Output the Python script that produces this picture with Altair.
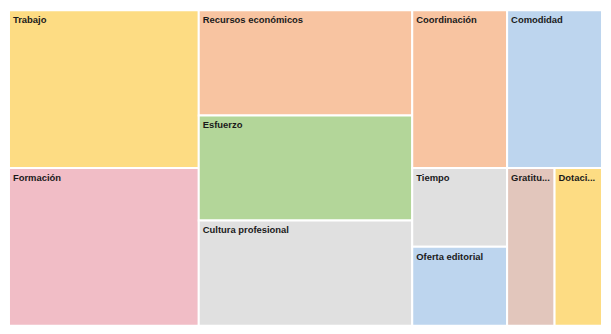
import altair as alt
import pandas as pd

# ---- data ----
names = ["Trabajo", "Formación", "Recursos económicos", "Esfuerzo",
         "Cultura profesional", "Coordinación", "Comodidad", "Tiempo",
         "Oferta editorial", "Gratitud", "Dotación"]
labels = ["Trabajo", "Formación", "Recursos económicos", "Esfuerzo",
          "Cultura profesional", "Coordinación", "Comodidad", "Tiempo",
          "Oferta editorial", "Gratitu...", "Dotaci..."]
values = [4, 4, 3, 3, 3, 2, 2, 1, 1, 1, 1]
colors = ["#FDDC83", "#F1BDC6", "#F8C4A1", "#B3D699", "#E0E0E0", "#F8C4A1",
          "#BDD5EE", "#E0E0E0", "#BDD5EE", "#E2C6BC", "#FDDC83"]

# ---- squarified treemap layout (d3 treemapSquarify, golden ratio) ----
PHI = (1 + 5 ** 0.5) / 2
LAYOUT_W, LAYOUT_H = 1000.0, 500.0


def squarify(vals, x0, y0, x1, y1, ratio=PHI):
    out = [None] * len(vals)
    i0 = i1 = 0
    n = len(vals)
    value = float(sum(vals))
    while i0 < n:
        dx, dy = x1 - x0, y1 - y0
        sum_v = vals[i1]
        i1 += 1
        min_v = max_v = sum_v
        alpha = max(dy / dx, dx / dy) / (value * ratio)
        beta = sum_v * sum_v * alpha
        min_ratio = max(max_v / beta, beta / min_v)
        while i1 < n:
            nv = vals[i1]
            sum_v += nv
            min_v = min(min_v, nv)
            max_v = max(max_v, nv)
            beta = sum_v * sum_v * alpha
            new_ratio = max(max_v / beta, beta / min_v)
            if new_ratio > min_ratio:
                sum_v -= nv
                break
            min_ratio = new_ratio
            i1 += 1
        row = list(range(i0, i1))
        if dx < dy:  # dice: row along the top
            ny = y0 + dy * sum_v / value
            xx = x0
            for k in row:
                w = (x1 - x0) * vals[k] / sum_v
                out[k] = (xx, y0, xx + w, ny)
                xx += w
            y0 = ny
        else:  # slice: column on the left
            nx = x0 + dx * sum_v / value
            yy = y0
            for k in row:
                h = (y1 - y0) * vals[k] / sum_v
                out[k] = (x0, yy, nx, yy + h)
                yy += h
            x0 = nx
        value -= sum_v
        i0 = i1
    return out


rects = squarify(values, 0.0, 0.0, LAYOUT_W, LAYOUT_H)
df = pd.DataFrame({
    "name": names,
    "label": labels,
    "value": values,
    "x0": [r[0] for r in rects],
    "y0": [r[1] for r in rects],
    "x1": [r[2] for r in rects],
    "y1": [r[3] for r in rects],
})

xs = alt.Scale(domain=[0, LAYOUT_W], nice=False, zero=False)
ys = alt.Scale(domain=[0, LAYOUT_H], nice=False, zero=False, reverse=True)

base = alt.Chart(df)

cells = base.mark_rect(stroke="white", strokeWidth=2).encode(
    x=alt.X("x0:Q", scale=xs, axis=None),
    x2="x1:Q",
    y=alt.Y("y0:Q", scale=ys, axis=None),
    y2="y1:Q",
    color=alt.Color("name:N", scale=alt.Scale(domain=names, range=colors), legend=None),
    tooltip=["name:N", "value:Q"],
)

text = base.mark_text(
    align="left", baseline="top", dx=4, dy=5,
    font="Liberation Sans", fontWeight="bold", fontSize=9.5, color="#1a1a1a",
).encode(
    x=alt.X("x0:Q", scale=xs, axis=None),
    y=alt.Y("y0:Q", scale=ys, axis=None),
    text="label:N",
)

chart = alt.layer(cells, text).properties(
    width=598, height=318, padding=0
).configure_view(stroke=None)

chart.save("out.html", embed_options={"renderer": "svg", "actions": False})
